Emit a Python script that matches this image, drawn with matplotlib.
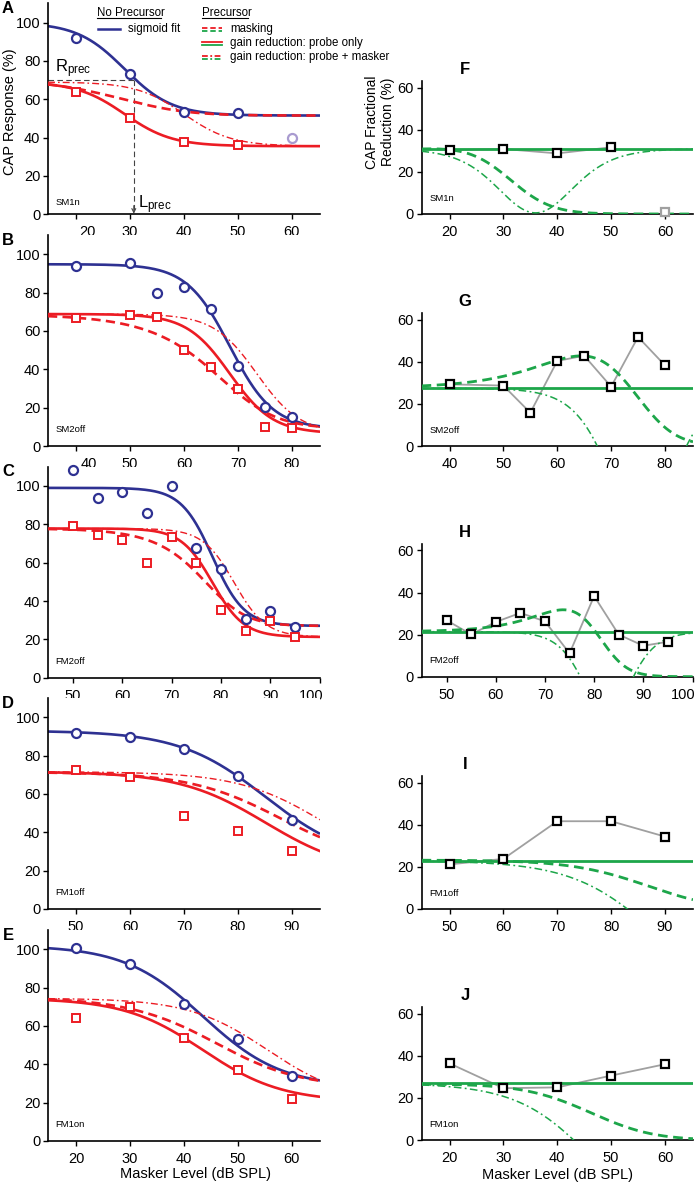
import numpy as np
import matplotlib
matplotlib.use("Agg")
import matplotlib.pyplot as plt
from matplotlib.lines import Line2D
from matplotlib.transforms import ScaledTranslation

plt.rcParams['font.family'] = ['Liberation Sans', 'DejaVu Sans']
plt.rcParams['mathtext.fontset'] = 'custom'
plt.rcParams['mathtext.rm'] = 'Liberation Sans'
plt.rcParams['mathtext.it'] = 'Liberation Sans'

# ---------------- panel meta ----------------
panel_names = ['SM1n', 'SM2off', 'FM2off', 'FM1off', 'FM1on']
left_letters = ['A', 'B', 'C', 'D', 'E']
right_letters = ['F', 'G', 'H', 'I', 'J']
xlims = [(14.8, 65.2), (34.8, 85.2), (44.9, 100.1), (44.8, 95.2), (14.8, 65.2)]
xticks = [[20, 30, 40, 50, 60], [40, 50, 60, 70, 80], [50, 60, 70, 80, 90, 100],
          [50, 60, 70, 80, 90], [20, 30, 40, 50, 60]]

# ---------------- left panels: CAP response (%) ----------------
levels_A = [20, 30, 40, 50]
noprec_A = [91.8, 73.2, 53.5, 53.0]
prec_A = [64.0, 50.4, 37.9, 36.2]
excluded_level_A = [60]
excluded_noprec_A = [40.0]

levels_B = [40, 50, 55, 60, 65, 70, 75, 80]
noprec_B = [93.9, 95.6, 79.6, 83.1, 71.5, 41.7, 20.2, 15.3]
prec_B = [66.9, 68.2, 67.1, 49.9, 41.1, 29.9, 9.7, 9.5]

levels_C = [50, 55, 60, 65, 70, 75, 80, 85, 90, 95]
noprec_C = [108.4, 93.6, 97.0, 86.1, 100.0, 67.8, 56.7, 30.5, 34.8, 26.3]
prec_C = [79.1, 74.6, 71.8, 59.8, 73.2, 60.0, 35.3, 24.4, 29.7, 21.4]

levels_D = [50, 60, 70, 80, 90]
noprec_D = [91.7, 89.9, 83.3, 69.4, 46.4]
prec_D = [72.5, 68.7, 48.7, 40.7, 30.4]

levels_E = [20, 30, 40, 50, 60]
noprec_E = [100.8, 92.1, 71.3, 53.1, 34.1]
prec_E = [64.4, 70.0, 53.6, 37.0, 22.0]

# ---------------- right panels: fractional reduction (%) ----------------
levels_F = [20, 30, 40, 50]
reduction_F = [30.4, 30.9, 28.8, 31.7]
excluded_level_F = [60]
excluded_reduction_F = [0.8]

levels_G = [40, 50, 55, 60, 65, 70, 75, 80]
reduction_G = [29.3, 28.7, 15.8, 40.4, 42.9, 28.2, 51.8, 38.3]

levels_H = [50, 55, 60, 65, 70, 75, 80, 85, 90, 95]
reduction_H = [26.8, 20.1, 26.0, 30.3, 26.3, 11.1, 38.3, 20.0, 14.7, 16.6]

levels_I = [50, 60, 70, 80, 90]
reduction_I = [21.2, 23.8, 41.7, 41.7, 34.4]

levels_J = [20, 30, 40, 50, 60]
reduction_J = [36.4, 24.6, 25.0, 30.6, 36.0]

# ---------------- sigmoid fit / model parameters ----------------
fit_top = [100.0, 94.8, 99.0, 93.0, 102.0]
fit_bottom = [51.5, 9.0, 27.0, 24.0, 28.0]
fit_mid = [29.0, 68.5, 78.3, 85.1, 43.5]
fit_slope = [4.4, 4.0, 3.2, 8.0, 7.3]
gain = [0.69, 0.726, 0.786, 0.77, 0.73]
L_prec = [30.7, 65.2, 75.5, 78.8, 39.4]
level_sum_k = [20, 19, 15, 20, 20]
masker_shift = [11.0, 5.0, 4.4, 11.0, 12.0]
R_prec_A = 70.0

left_data = [(levels_A, noprec_A, prec_A), (levels_B, noprec_B, prec_B),
             (levels_C, noprec_C, prec_C), (levels_D, noprec_D, prec_D),
             (levels_E, noprec_E, prec_E)]
right_data = [(levels_F, reduction_F), (levels_G, reduction_G), (levels_H, reduction_H),
              (levels_I, reduction_I), (levels_J, reduction_J)]

BLUE = '#2e3192'
RED = '#ec1c24'
GREEN = '#1da64a'
GRAYLINE = '#a0a0a0'
LAVENDER = '#a99bd0'

W, H = 697, 1186
fig = plt.figure(figsize=(W / 100, H / 100), dpi=100)


def fx(px):
    return px / W


def fy(py):
    return 1 - py / H


left_bottom_px = [214.3, 446.0, 677.7, 909.0, 1141.0]
right_bottom_px = [214.0, 446.0, 676.7, 909.0, 1140.0]
left_h = 210.9
right_h = 132.6


def logistic(x, i):
    return fit_bottom[i] + (fit_top[i] - fit_bottom[i]) / (1 + np.exp((x - fit_mid[i]) / fit_slope[i]))


def curves(i, x):
    blue = logistic(x, i)
    solid = gain[i] * blue
    k = level_sum_k[i]
    leff = k * np.log10(10 ** (x / k) + 10 ** (L_prec[i] / k))
    dashed = logistic(leff, i)
    dashdot = gain[i] * logistic(x - masker_shift[i], i)
    return blue, solid, dashed, dashdot


def style_axis(ax):
    for s in ['top', 'right']:
        ax.spines[s].set_visible(False)
    for s in ['left', 'bottom']:
        ax.spines[s].set_linewidth(1.2)
    ax.tick_params(direction='out', length=3.5, width=1.0, labelsize=10.5, pad=2)
    ax.tick_params(axis='x', pad=4.5)


def shift_label(ax, idx, dx_px):
    off = ScaledTranslation(dx_px / 100, 0, fig.dpi_scale_trans)
    lbl = ax.get_xticklabels()[idx]
    lbl.set_transform(lbl.get_transform() + off)


label_y_left = [0.035, 0.057, 0.055, 0.057, 0.057]

for i in range(5):
    # ---------- left ----------
    ax = fig.add_axes([fx(48), fy(left_bottom_px[i]), fx(272), left_h / H])
    style_axis(ax)
    ax.set_xlim(*xlims[i])
    ax.set_ylim(0, 110)
    ax.set_yticks([0, 20, 40, 60, 80, 100])
    ax.set_xticks(xticks[i])
    x = np.linspace(xlims[i][0], xlims[i][1], 500)
    blue, solid, dashed, dashdot = curves(i, x)
    ax.plot(x, blue, color=BLUE, lw=1.9, zorder=2, solid_capstyle='butt')
    ax.plot(x, dashdot, color=RED, lw=1.0, dashes=(5, 2.2, 1.2, 2.2), zorder=3)
    ax.plot(x, solid, color=RED, lw=1.9, zorder=3)
    ax.plot(x, dashed, color=RED, lw=1.9, dashes=(3.5, 2.0), zorder=3)
    lv, nop, pr = left_data[i]
    ax.plot(lv, nop, 'o', ms=6.5, mfc='white', mec=BLUE, mew=1.6, zorder=5, clip_on=False)
    ax.plot(lv, pr, 's', ms=5.5, mfc='white', mec=RED, mew=1.4, zorder=5, clip_on=False)
    ax.text(0.026, label_y_left[i], panel_names[i], transform=ax.transAxes, fontsize=6.8,
            ha='left', va='bottom')
    fig.text(fx(8), fy(left_bottom_px[i] - left_h + 5), left_letters[i], fontsize=12,
             fontweight='bold', ha='center', va='center')
    if i == 0:
        shift_label(ax, 0, 11)
    if i == 1:
        shift_label(ax, 0, 13)
    if i == 2:
        shift_label(ax, -1, -8)
    if i == 0:
        ax.plot(excluded_level_A, excluded_noprec_A, 'o', ms=6.5, mfc='white', mec=LAVENDER,
                mew=1.6, zorder=5)
        ax.plot([xlims[0][0], L_prec[0]], [R_prec_A, R_prec_A], color='#444444', lw=0.8,
                dashes=(5, 3), zorder=1)
        ax.plot([L_prec[0], L_prec[0]], [R_prec_A, 2.0], color='#444444', lw=0.8,
                dashes=(5, 3), zorder=1)
        ax.annotate('', xy=(L_prec[0], 0.3), xytext=(L_prec[0], 4.5),
                    arrowprops=dict(arrowstyle='->', color='#444444', lw=0.8,
                                    mutation_scale=7, shrinkA=0, shrinkB=0))
        ax.text(16.1, 74.0, r'R$_{\mathrm{prec}}$', fontsize=12, ha='left', va='baseline')
        ax.text(31.5, 3.3, r'L$_{\mathrm{prec}}$', fontsize=12, ha='left', va='baseline')
    if i == 4:
        fig.text(fx(195), fy(1174), 'Masker Level (dB SPL)', fontsize=10.5,
                 ha='center', va='center')

    # ---------- right ----------
    axr = fig.add_axes([fx(421.5), fy(right_bottom_px[i]), fx(271.5), right_h / H])
    style_axis(axr)
    axr.set_xlim(*xlims[i])
    axr.set_ylim(0, 63)
    axr.set_yticks([0, 20, 40, 60])
    axr.set_xticks(xticks[i])
    if i == 2:
        shift_label(axr, -1, -9)
    g_solid = 100 * (1 - solid / blue)
    g_dashed = 100 * (1 - dashed / blue)
    g_dashdot = 100 * (1 - dashdot / blue)
    rl, rr = right_data[i]
    axr.plot(rl, rr, '-', color=GRAYLINE, lw=1.3, zorder=2)
    axr.plot(x, g_dashdot, color=GREEN, lw=1.1, dashes=(5, 2.2, 1.2, 2.2), zorder=3)
    axr.plot(x, g_dashed, color=GREEN, lw=2.0, dashes=(3.5, 2.0), zorder=3)
    axr.plot(x, g_solid, color=GREEN, lw=2.0, zorder=3)
    axr.plot(rl, rr, 's', ms=5.5, mfc='white', mec='black', mew=1.6, zorder=5)
    if i == 0:
        axr.plot(excluded_level_F, excluded_reduction_F, 's', ms=5.5, mfc='white',
                 mec=GRAYLINE, mew=1.6, zorder=5, clip_on=False)
    axr.text(0.03, 0.085, panel_names[i], transform=axr.transAxes, fontsize=6.8,
             ha='left', va='bottom')
    fig.text(fx(465), fy(right_bottom_px[i] - right_h - 12), right_letters[i], fontsize=12,
             fontweight='bold', ha='center', va='center')
    if i == 4:
        fig.text(fx(558), fy(1175), 'Masker Level (dB SPL)', fontsize=10.5,
                 ha='center', va='center')

# y labels
fig.text(fx(10), fy(112), 'CAP Response (%)', rotation=90, fontsize=10.5,
         ha='center', va='center')
fig.text(fx(380), fy(122), 'CAP Fractional\nReduction (%)', rotation=90, fontsize=10,
         ha='center', va='center', multialignment='center', linespacing=1.1)

# ---------------- legend (figure coordinates in pixels) ----------------
def seg(x0, x1, y, color, **kw):
    fig.add_artist(Line2D([fx(x0), fx(x1)], [fy(y), fy(y)], transform=fig.transFigure,
                          color=color, **kw))


fs_leg = 8.3
fig.text(fx(97), fy(13.3), 'No Precursor', fontsize=fs_leg, ha='left', va='center')
seg(97, 161, 18.3, 'black', lw=0.8)
seg(98, 120, 29.3, BLUE, lw=1.8)
fig.text(fx(127.5), fy(29.3), 'sigmoid fit', fontsize=fs_leg, ha='left', va='center')

fig.text(fx(201.5), fy(13.3), 'Precursor', fontsize=fs_leg, ha='left', va='center')
seg(201.5, 248, 18.3, 'black', lw=0.8)
legend_items = ['masking', 'gain reduction: probe only', 'gain reduction: probe + masker']
legend_dash = [(3.0, 1.6), None, (3.2, 1.4, 1.0, 1.4)]
for j, (txt, dsh) in enumerate(zip(legend_items, legend_dash)):
    yc = 29.3 + 14 * j
    for yy, col in [(yc - 1.6, RED), (yc + 1.6, GREEN)]:
        if dsh is None:
            seg(201.5, 222, yy, col, lw=1.3)
        else:
            seg(201.5, 222, yy, col, lw=1.3, dashes=dsh)
    fig.text(fx(230), fy(yc), txt, fontsize=fs_leg, ha='left', va='center')

fig.savefig('out.png', dpi=100)
